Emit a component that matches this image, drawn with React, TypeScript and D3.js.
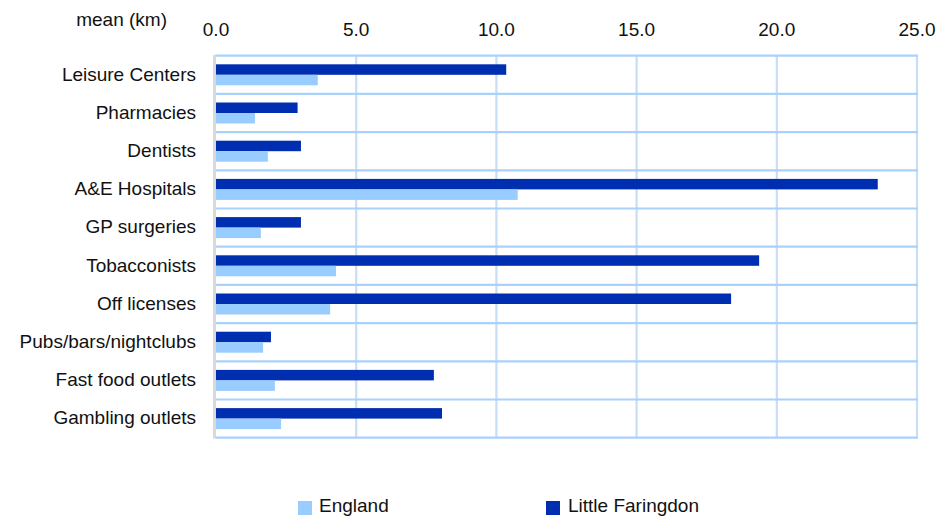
import React from "react";
import * as d3 from "d3";

const categories = [
  "Leisure Centers",
  "Pharmacies",
  "Dentists",
  "A&E Hospitals",
  "GP surgeries",
  "Tobacconists",
  "Off licenses",
  "Pubs/bars/nightclubs",
  "Fast food outlets",
  "Gambling outlets",
];
const littleFaringdon = [10.35, 2.91, 3.03, 23.6, 3.03, 19.37, 18.37, 1.96, 7.77, 8.06];
const england = [3.63, 1.39, 1.85, 10.76, 1.6, 4.28, 4.07, 1.68, 2.1, 2.32];
const xTicks = [0, 5, 10, 15, 20, 25];
const seriesNames = ["Little Faringdon", "England"];

const W = 937;
const H = 516;
const FONT = "'Liberation Sans', Arial, sans-serif";
const DARK = "#002EB0";
const LIGHT = "#99CCFF";

export default function App() {
  const x = d3.scaleLinear().domain([0, 25]).range([216, 917]);
  const y = d3.scaleBand<string>().domain(categories).range([55.7, 437.7]).paddingInner(0).paddingOuter(0);
  const sub = d3
    .scaleBand<string>()
    .domain(seriesNames)
    .range([0, y.bandwidth()])
    .paddingInner(0)
    .paddingOuter(0.82);
  const boundaries = categories.map((c) => y(c) as number).concat([y.range()[1]]);
  const color: Record<string, string> = { "Little Faringdon": DARK, England: LIGHT };
  const values: Record<string, number[]> = { "Little Faringdon": littleFaringdon, England: england };

  return (
    <svg
      width={W}
      height={H}
      style={{ position: "absolute", left: 0, top: 0, display: "block" }}
      fontFamily={FONT}
    >
      <rect width={W} height={H} fill="#fff" />
      {xTicks.slice(1).map((t) => (
        <line key={"v" + t} x1={x(t)} x2={x(t)} y1={55.7} y2={437.7} stroke="#C8DDF6" strokeWidth={2.2} />
      ))}
      {boundaries.map((b, i) => (
        <line key={"h" + i} x1={215} x2={918} y1={b} y2={b} stroke="#A8D1FC" strokeWidth={2.2} />
      ))}
      {categories.map((c, i) =>
        seriesNames.map((s) => (
          <rect
            key={c + s}
            x={x(0)}
            y={(y(c) as number) + (sub(s) as number)}
            width={x(values[s][i]) - x(0)}
            height={sub.bandwidth()}
            fill={color[s]}
          />
        ))
      )}
      <line x1={214.5} x2={214.5} y1={55} y2={438.5} stroke="#D9D9D9" strokeWidth={3} />
      {xTicks.map((t) => (
        <text key={"t" + t} x={x(t)} y={36} fontSize={19} textAnchor="middle" fill="#111">
          {t.toFixed(1)}
        </text>
      ))}
      <text x={167} y={26} fontSize={19} textAnchor="end" fill="#111">
        mean (km)
      </text>
      {categories.map((c) => (
        <text
          key={"c" + c}
          x={196}
          y={(y(c) as number) + y.bandwidth() / 2}
          dy="0.3em"
          fontSize={19}
          textAnchor="end"
          fill="#111"
        >
          {c}
        </text>
      ))}
      {[
        { name: "England", sx: 298, tx: 319 },
        { name: "Little Faringdon", sx: 546, tx: 568 },
      ].map((l) => (
        <g key={l.name}>
          <rect x={l.sx} y={501} width={14} height={14} fill={color[l.name]} />
          <text x={l.tx} y={511.5} fontSize={19} fill="#111">
            {l.name}
          </text>
        </g>
      ))}
    </svg>
  );
}
